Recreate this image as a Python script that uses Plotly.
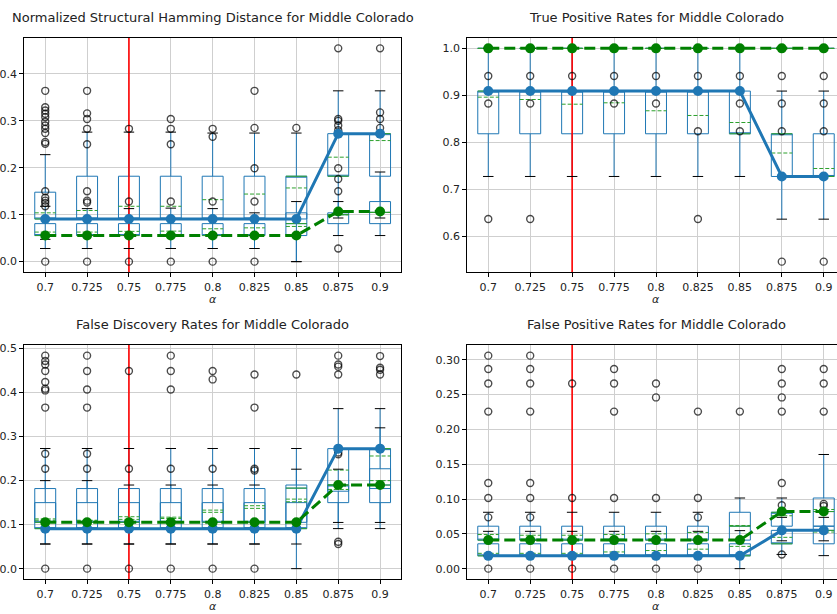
import plotly.graph_objects as go

CATEGORIES = ["0.7", "0.725", "0.75", "0.775", "0.8", "0.825", "0.85", "0.875", "0.9"]
MARKED = "0.75"

TITLES = ["Normalized Structural Hamming Distance for Middle Colorado",
          "True Positive Rates for Middle Colorado",
          "False Discovery Rates for Middle Colorado",
          "False Positive Rates for Middle Colorado"]

# ---------- Panel 1: SHD ----------
SHD_A_LO = [0.028, 0.028, 0.028, 0.028, 0.028, 0.028, 0.0, 0.093, 0.093]
SHD_A_Q1 = [0.0909] * 7 + [0.182, 0.182]
SHD_A_MED = [0.0909] * 6 + [0.182, 0.182, 0.2727]
SHD_A_Q3 = [0.148, 0.182, 0.182, 0.182, 0.182, 0.182, 0.182, 0.2727, 0.2727]
SHD_A_HI = [0.228, 0.276, 0.276, 0.276, 0.274, 0.274, 0.274, 0.364, 0.364]
SHD_A_MEAN = [0.104, 0.109, 0.118, 0.118, 0.132, 0.144, 0.157, 0.2226, 0.258]
SHD_B_LO = [0.0475, 0.0556, 0.0556, 0.0556, 0.0556, 0.0556, 0.0, 0.0556, 0.0556]
SHD_B_Q1 = [0.0556] * 7 + [0.081, 0.081]
SHD_B_MED = [0.0556] * 6 + [0.081, 0.1, 0.105]
SHD_B_Q3 = [0.081] * 6 + [0.104, 0.104, 0.128]
SHD_B_HI = [0.118, 0.113, 0.113, 0.114, 0.113, 0.104, 0.128, 0.128, 0.191]
SHD_B_MEAN = [0.063, 0.063, 0.0645, 0.065, 0.070, 0.072, 0.075, 0.1, 0.105]
SHD_OUT = [
    [0, 0.118, 0.125, 0.13, 0.136, 0.15, 0.251, 0.255, 0.274, 0.283, 0.29, 0.298, 0.308, 0.315, 0.322, 0.329, 0.364],
    [0, 0.126, 0.13, 0.15, 0.25, 0.283, 0.304, 0.316, 0.364],
    [0, 0.128, 0.283],
    [0, 0.128, 0.25, 0.283, 0.304],
    [0, 0.128, 0.266, 0.283],
    [0, 0.128, 0.199, 0.285, 0.364],
    [0.285],
    [0.028, 0.15, 0.176, 0.199, 0.28, 0.29, 0.3, 0.304, 0.4545],
    [0.285, 0.304, 0.318, 0.4545],
]
SHD_BLUE = [0.0909] * 7 + [0.2727] * 2
SHD_GREEN = [0.0556] * 7 + [0.107] * 2

# ---------- Panel 2: TPR ----------
TPR_A_LO = [0.727] * 7 + [0.636, 0.636]
TPR_A_Q1 = [0.818] * 7 + [0.727, 0.727]
TPR_A_MED = [0.909] * 6 + [0.818, 0.818, 0.727]
TPR_A_Q3 = [0.909] * 7 + [0.818, 0.818]
TPR_A_HI = [1.0] * 7 + [0.909, 0.909]
TPR_A_MEAN = [0.896, 0.891, 0.881, 0.884, 0.867, 0.857, 0.842, 0.777, 0.744]
TPR_B_LO = [1.0] * 9
TPR_B_Q1 = [1.0] * 9
TPR_B_MED = [1.0] * 9
TPR_B_Q3 = [1.0] * 9
TPR_B_HI = [1.0] * 9
TPR_B_MEAN = [1.0] * 9
TPR_OUT = [
    [0.6364, 0.8824, 0.9412],
    [0.6364, 0.8824, 0.9412],
    [0.9412],
    [0.8824, 0.9412],
    [0.8824, 0.9412],
    [0.6364, 0.8235, 0.9412],
    [0.8235, 0.8824, 0.9412],
    [0.5455, 0.8235, 0.8824, 0.9412],
    [0.5455, 0.8235, 0.8824, 0.9412],
]
TPR_BLUE = [0.909] * 7 + [0.727] * 2
TPR_GREEN = [1.0] * 9

# ---------- Panel 3: FDR ----------
FDR_A_LO = [0.056] * 6 + [0.0, 0.105, 0.105]
FDR_A_Q1 = [0.0909] * 7 + [0.15, 0.15]
FDR_A_MED = [0.0909] * 7 + [0.19, 0.2727]
FDR_A_Q3 = [0.15] * 7 + [0.2727, 0.2727]
FDR_A_HI = [0.273] * 7 + [0.3636, 0.3636]
FDR_A_MEAN = [0.113, 0.109, 0.118, 0.117, 0.128, 0.137, 0.152, 0.224, 0.256]
FDR_B_LO = [0.056] * 7 + [0.091, 0.091]
FDR_B_Q1 = [0.1053] * 7 + [0.176, 0.182]
FDR_B_MED = [0.1053] * 6 + [0.183, 0.19, 0.19]
FDR_B_Q3 = [0.182] * 6 + [0.19, 0.19, 0.227]
FDR_B_HI = [0.2, 0.2, 0.19, 0.19, 0.19, 0.19, 0.226, 0.226, 0.32]
FDR_B_MEAN = [0.11, 0.11, 0.112, 0.114, 0.133, 0.143, 0.158, 0.18, 0.2]
FDR_OUT = [
    [0, 0.227, 0.261, 0.366, 0.405, 0.409, 0.424, 0.449, 0.464, 0.472, 0.484],
    [0, 0.227, 0.261, 0.366, 0.407, 0.449, 0.484],
    [0, 0.227, 0.449],
    [0, 0.227, 0.407, 0.449, 0.484],
    [0, 0.227, 0.43, 0.449],
    [0, 0.223, 0.227, 0.366, 0.441],
    [0.441],
    [0.056, 0.061, 0.26, 0.264, 0.441, 0.459, 0.464, 0.484],
    [0.441, 0.452, 0.4565, 0.483],
]
FDR_BLUE = [0.0909] * 7 + [0.2727] * 2
FDR_GREEN = [0.1053] * 7 + [0.19] * 2

# ---------- Panel 4: FPR ----------
FPR_A_LO = [0.0184] * 6 + [0.0, 0.0204, 0.0187]
FPR_A_Q1 = [0.0184] * 7 + [0.0357, 0.0357]
FPR_A_MED = [0.0184] * 7 + [0.0357, 0.055]
FPR_A_Q3 = [0.0357] * 7 + [0.055, 0.061]
FPR_A_HI = [0.0536] * 6 + [0.0546, 0.0737, 0.0737]
FPR_A_MEAN = [0.022, 0.022, 0.022, 0.024, 0.026, 0.028, 0.032, 0.045, 0.0526]
FPR_B_LO = [0.041] * 7 + [0.04, 0.04]
FPR_B_Q1 = [0.041] * 7 + [0.061, 0.061]
FPR_B_MED = [0.041] * 6 + [0.061, 0.081, 0.082]
FPR_B_Q3 = [0.061] * 6 + [0.081, 0.081, 0.1015]
FPR_B_HI = [0.081] * 6 + [0.1015, 0.1015, 0.164]
FPR_B_MEAN = [0.049, 0.048, 0.048, 0.049, 0.05, 0.052, 0.062, 0.076, 0.085]
FPR_OUT = [
    [0, 0.0737, 0.1015, 0.123, 0.2256, 0.266, 0.2868, 0.306],
    [0, 0.0737, 0.1015, 0.123, 0.2256, 0.266, 0.2868, 0.306],
    [0, 0.1015, 0.266],
    [0, 0.1015, 0.2256, 0.266, 0.2868],
    [0, 0.1015, 0.246, 0.266],
    [0, 0.0737, 0.1015, 0.2256],
    [0.2256],
    [0.0204, 0.091, 0.123, 0.2256, 0.246, 0.266, 0.2868],
    [0.09, 0.093, 0.2256, 0.266, 0.2868],
]
FPR_BLUE = [0.0184] * 7 + [0.055] * 2
FPR_GREEN = [0.041] * 7 + [0.082] * 2

BLUE = "#1f77b4"
MED_GREEN = "#2ca02c"
LINE_GREEN = "green"
W, H = 837, 614
FONT = "DejaVu Sans"

panels = [
    dict(A=(SHD_A_LO, SHD_A_Q1, SHD_A_MED, SHD_A_Q3, SHD_A_HI, SHD_A_MEAN),
         B=(SHD_B_LO, SHD_B_Q1, SHD_B_MED, SHD_B_Q3, SHD_B_HI, SHD_B_MEAN),
         out=SHD_OUT, blue=SHD_BLUE, green=SHD_GREEN, dtick=0.1, fmt=".1f"),
    dict(A=(TPR_A_LO, TPR_A_Q1, TPR_A_MED, TPR_A_Q3, TPR_A_HI, TPR_A_MEAN),
         B=(TPR_B_LO, TPR_B_Q1, TPR_B_MED, TPR_B_Q3, TPR_B_HI, TPR_B_MEAN),
         out=TPR_OUT, blue=TPR_BLUE, green=TPR_GREEN, dtick=0.1, fmt=".1f"),
    dict(A=(FDR_A_LO, FDR_A_Q1, FDR_A_MED, FDR_A_Q3, FDR_A_HI, FDR_A_MEAN),
         B=(FDR_B_LO, FDR_B_Q1, FDR_B_MED, FDR_B_Q3, FDR_B_HI, FDR_B_MEAN),
         out=FDR_OUT, blue=FDR_BLUE, green=FDR_GREEN, dtick=0.1, fmt=".1f"),
    dict(A=(FPR_A_LO, FPR_A_Q1, FPR_A_MED, FPR_A_Q3, FPR_A_HI, FPR_A_MEAN),
         B=(FPR_B_LO, FPR_B_Q1, FPR_B_MED, FPR_B_Q3, FPR_B_HI, FPR_B_MEAN),
         out=FPR_OUT, blue=FPR_BLUE, green=FPR_GREEN, dtick=0.05, fmt=".2f"),
]

# pixel geometry of the axes boxes (window coordinates; page margin removed)
LEFT_X = (24.3, 401.0)
RIGHT_X = (467.3, 844.7)   # right edge lies beyond the page
TOP_Y = (37.7, 272.3)
BOT_Y = (345.0, 579.3)
geoms = [(LEFT_X, TOP_Y), (RIGHT_X, TOP_Y), (LEFT_X, BOT_Y), (RIGHT_X, BOT_Y)]

POS = list(range(len(CATEGORIES)))
n_cat = len(CATEGORIES)


def segs(vals, half):
    xs, ys = [], []
    for i, v in enumerate(vals):
        xs += [i - half, i + half, None]
        ys += [v, v, None]
    return xs, ys


fig = go.Figure()
annotations = []
layout_axes = {}

for k, (p, (gx, gy)) in enumerate(zip(panels, geoms)):
    n = k + 1
    xa = "x" if n == 1 else f"x{n}"
    ya = "y" if n == 1 else f"y{n}"
    allv = []
    for grp in (p["A"], p["B"]):
        for arr in grp:
            allv += arr
    for lst in p["out"]:
        allv += lst
    allv += p["blue"] + p["green"]
    lo, hi = min(allv), max(allv)
    pad = (hi - lo) * 0.05
    yr = [lo - pad, hi + pad]

    ri = CATEGORIES.index(MARKED)
    fig.add_trace(go.Scatter(x=[ri, ri], y=yr, mode="lines", line=dict(color="red", width=1.6),
                             xaxis=xa, yaxis=ya, showlegend=False, hoverinfo="skip"))

    for grp in (p["A"], p["B"]):
        glo, gq1, gmed, gq3, ghi, gmean = grp
        fig.add_trace(go.Box(x=POS, q1=gq1, median=gmed, q3=gq3, lowerfence=glo, upperfence=ghi,
                             width=0.5, whiskerwidth=0, boxpoints=False,
                             line=dict(color=BLUE, width=1), fillcolor="rgba(0,0,0,0)",
                             xaxis=xa, yaxis=ya, showlegend=False, hoverinfo="skip"))
    for grp in (p["A"], p["B"]):
        glo, gq1, gmed, gq3, ghi, gmean = grp
        mx, my = segs(gmed, 0.25)
        fig.add_trace(go.Scatter(x=mx, y=my, mode="lines", line=dict(color=MED_GREEN, width=1),
                                 xaxis=xa, yaxis=ya, showlegend=False, hoverinfo="skip"))
        ex, ey = segs(gmean, 0.25)
        fig.add_trace(go.Scatter(x=ex, y=ey, mode="lines",
                                 line=dict(color=MED_GREEN, width=1, dash="4px,2px"),
                                 xaxis=xa, yaxis=ya, showlegend=False, hoverinfo="skip"))
        cx1, cy1 = segs(glo, 0.125)
        cx2, cy2 = segs(ghi, 0.125)
        fig.add_trace(go.Scatter(x=cx1 + cx2, y=cy1 + cy2, mode="lines",
                                 line=dict(color="black", width=1),
                                 xaxis=xa, yaxis=ya, showlegend=False, hoverinfo="skip"))
    ox = [i for i, lst in enumerate(p["out"]) for _ in lst]
    oy = [v for lst in p["out"] for v in lst]
    fig.add_trace(go.Scatter(x=ox, y=oy, mode="markers",
                             marker=dict(symbol="circle-open", size=7, color="rgba(0,0,0,0.7)",
                                         line=dict(width=1.4)),
                             xaxis=xa, yaxis=ya, showlegend=False, hoverinfo="skip"))
    fig.add_trace(go.Scatter(x=POS, y=p["blue"], mode="lines+markers",
                             line=dict(color=BLUE, width=3), marker=dict(size=10, color=BLUE),
                             xaxis=xa, yaxis=ya, showlegend=False, hoverinfo="skip"))
    fig.add_trace(go.Scatter(x=POS, y=p["green"], mode="lines+markers",
                             line=dict(color=LINE_GREEN, width=3, dash="11px,5px"),
                             marker=dict(size=10, color=LINE_GREEN),
                             xaxis=xa, yaxis=ya, showlegend=False, hoverinfo="skip"))

    full_w = gx[1] - gx[0]
    vis_right = min(gx[1], W)
    clipped = gx[1] > W
    xr = [-0.5, -0.5 + n_cat * (vis_right - gx[0]) / full_w]
    dom_x = [gx[0] / W, vis_right / W]
    dom_y = [1 - gy[1] / H, 1 - gy[0] / H]

    axis_common = dict(showline=True, linecolor="black", linewidth=1, ticks="outside", ticklen=4,
                       tickcolor="black", showgrid=True, gridcolor="#cfcfcf", gridwidth=1,
                       zeroline=False, automargin=False,
                       tickfont=dict(family=FONT, size=11, color="#222"))
    layout_axes["xaxis" if n == 1 else f"xaxis{n}"] = dict(
        axis_common, domain=dom_x, range=xr, tickmode="array", tickvals=POS,
        ticktext=CATEGORIES, anchor=ya, mirror=True)
    layout_axes["yaxis" if n == 1 else f"yaxis{n}"] = dict(
        axis_common, domain=dom_y, range=yr, tick0=0, dtick=p["dtick"], tickformat=p["fmt"],
        anchor=xa, mirror=not clipped)

    cx = (gx[0] + gx[1]) / 2 / W
    annotations.append(dict(text=TITLES[k], x=cx, y=1 - (gy[0] - 20.5) / H, xref="paper", yref="paper",
                            showarrow=False, xanchor="center", yanchor="middle",
                            font=dict(family=FONT, size=13, color="#222")))
    annotations.append(dict(text="<i>α</i>", x=cx, y=1 - (gy[1] + 27.5) / H, xref="paper", yref="paper",
                            showarrow=False, xanchor="center", yanchor="middle",
                            font=dict(family=FONT, size=11, color="#222")))

fig.update_layout(width=W, height=H, margin=dict(l=0, r=0, t=0, b=0, autoexpand=False),
                  paper_bgcolor="white", plot_bgcolor="white", boxmode="overlay",
                  showlegend=False, annotations=annotations, **layout_axes)

fig.write_html("out.html", config={"displayModeBar": False},
               post_script="document.body.style.margin='0px';")
